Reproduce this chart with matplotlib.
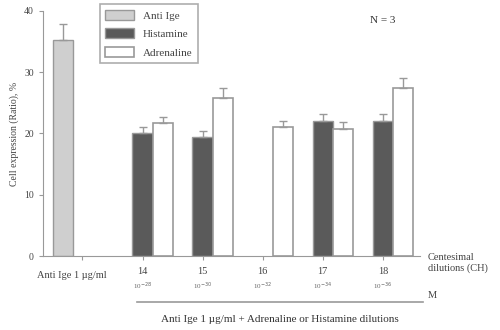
import numpy as np
import matplotlib
matplotlib.use("Agg")
import matplotlib.pyplot as plt

plt.rcParams['font.family'] = ['Liberation Serif', 'DejaVu Sans']

# data
dilutions = ["14", "15", "16", "17", "18"]
molar = ["10$^{-28}$", "10$^{-30}$", "10$^{-32}$", "10$^{-34}$", "10$^{-36}$"]
anti_ige = 35.3
anti_ige_err = 2.6
histamine = [20.1, 19.5, np.nan, 22.1, 22.1]
histamine_err = [1.0, 0.9, np.nan, 1.1, 1.1]
adrenaline = [21.7, 25.8, 21.0, 20.8, 27.5]
adrenaline_err = [1.0, 1.7, 1.0, 1.0, 1.6]

grey = "#999999"
txt = "#444444"
fig = plt.figure(figsize=(5, 3.3), dpi=100)
ax = fig.add_axes([0.086, 0.224, 0.754, 0.743])

w = 0.34
x = np.arange(len(dilutions)) + 1.5
ax.bar(0, anti_ige, w, color="#cfcfcf", edgecolor=grey, lw=1, label="Anti Ige")
ax.errorbar(0, anti_ige, yerr=[[0], [anti_ige_err]], fmt="none", ecolor=grey, capsize=3, lw=1)
ax.bar(x - w / 2, histamine, w, color="#5a5a5a", edgecolor=grey, lw=1, label="Histamine")
ax.errorbar(x - w / 2, histamine, yerr=[np.zeros(5), histamine_err], fmt="none",
            ecolor=grey, capsize=3, lw=1)
ax.bar(x + w / 2, adrenaline, w, color="white", edgecolor=grey, lw=1.2, label="Adrenaline")
ax.errorbar(x + w / 2, adrenaline, yerr=[np.zeros(5), adrenaline_err], fmt="none",
            ecolor=grey, capsize=3, lw=1)

ax.set_xlim(-0.33, 5.95)
ax.set_ylim(0, 40)
ax.set_yticks([0, 10, 20, 30, 40])
ax.set_xticks([0.32] + list(x - w / 2))
ax.set_xticklabels([])
for s in ["top", "right"]:
    ax.spines[s].set_visible(False)
for s in ["left", "bottom"]:
    ax.spines[s].set_color(grey)
ax.tick_params(colors=grey, labelcolor=txt, labelsize=7, length=3)
ax.set_ylabel("Cell expression (Ratio), %", fontsize=7, color=txt)

leg = ax.legend(loc="upper left", bbox_to_anchor=(0.136, 1.05), fontsize=8,
                frameon=True, fancybox=False, edgecolor=grey, handlelength=2.6,
                handleheight=1.0, borderpad=0.5, labelspacing=0.7)
leg.get_frame().set_linewidth(1.2)
for t in leg.get_texts():
    t.set_color(txt)

ax.text(0.9, 0.96, "N = 3", transform=ax.transAxes, fontsize=8, color="#333333",
        ha="center", va="center")

# labels under the axis
fig.text(72 / 500, 1 - 275 / 330, "Anti Ige 1 µg/ml", fontsize=7.5, color=txt,
         ha="center", va="center")
for xi, d, m in zip(x - w / 2, dilutions, molar):
    xf = fig.transFigure.inverted().transform(ax.transData.transform((xi, 0)))[0]
    fig.text(xf, 1 - 272 / 330, d, fontsize=7.5, color=txt, ha="center", va="center")
    fig.text(xf, 1 - 286 / 330, m, fontsize=5, color="#666666", ha="center", va="center")
fig.text(428 / 500, 1 - 263 / 330, "Centesimal\ndilutions (CH)", fontsize=7.5,
         color=txt, ha="left", va="center", linespacing=1.3)
fig.text(428 / 500, 1 - 295 / 330, "M", fontsize=7.5, color=txt, ha="left", va="center")
fig.add_artist(plt.Line2D([137 / 500, 423 / 500], [1 - 302 / 330, 1 - 302 / 330],
                          color=grey, lw=1.2))
fig.text(280 / 500, 1 - 320 / 330, "Anti Ige 1 µg/ml + Adrenaline or Histamine dilutions",
         fontsize=8, color="#333333", ha="center", va="center")

fig.savefig("out.png", dpi=100)
